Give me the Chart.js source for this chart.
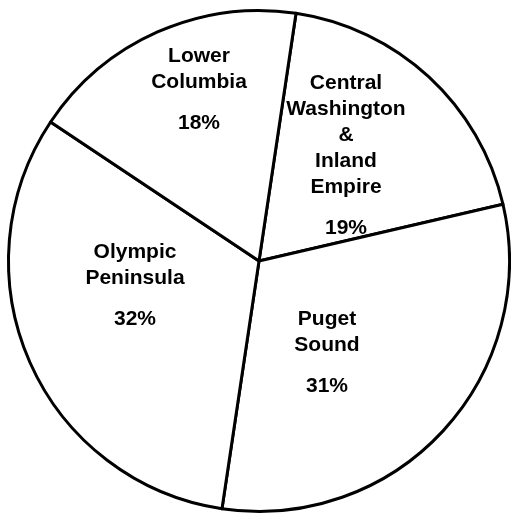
<!DOCTYPE html>
<html>
<head>
<meta charset="utf-8">
<title>Regional shares</title>
<script src="https://cdn.jsdelivr.net/npm/chart.js@4.4.1/dist/chart.umd.min.js"></script>
<style>
  html, body { margin: 0; padding: 0; background: #ffffff; }
  #wrap { position: relative; width: 511px; height: 516px; }
</style>
</head>
<body>
<div id="wrap"><canvas id="pie" width="511" height="516"></canvas></div>
<script>
// Regions, listed clockwise starting just right of twelve o'clock
const regions = [
  ["Central", "Washington", "&", "Inland", "Empire"],
  ["Puget", "Sound"],
  ["Olympic", "Peninsula"],
  ["Lower", "Columbia"]
];
// Share of each region, in percent
const shares = [19, 31, 32, 18];

// Where each label block sits: offset of its first baseline from the pie
// centre, in pixels for a 252 px radius (scaled with the real radius)
const labelAnchors = [
  [87, -172],
  [68, 64],
  [-124, -3],
  [-60, -199]
];
const LINE_STEP = 26;
const PCT_GAP = 41;

const pieLabels = {
  id: 'pieLabels',
  afterDatasetsDraw(chart) {
    const ctx = chart.ctx;
    const arc = chart.getDatasetMeta(0).data[0];
    const cx = arc.x, cy = arc.y;
    const k = (arc.outerRadius + 1.5) / 252;
    ctx.save();
    ctx.fillStyle = '#000';
    ctx.font = 'bold 21px "Liberation Sans", Arial, sans-serif';
    ctx.textAlign = 'center';
    ctx.textBaseline = 'alphabetic';
    regions.forEach((lines, i) => {
      const x = cx + labelAnchors[i][0] * k;
      const y = cy + labelAnchors[i][1] * k;
      lines.forEach((t, j) => {
        ctx.fillText(t, x, y + j * LINE_STEP);
      });
      const last = y + (lines.length - 1) * LINE_STEP;
      ctx.fillText(shares[i] + '%', x, last + PCT_GAP);
    });
    ctx.restore();
  }
};

new Chart(document.getElementById('pie'), {
  type: 'pie',
  data: {
    labels: regions.map(r => r.join(' ')),
    datasets: [{
      data: shares,
      backgroundColor: '#ffffff',
      borderColor: '#000000',
      borderWidth: 3,
      borderJoinStyle: 'round'
    }]
  },
  options: {
    responsive: false,
    animation: false,
    rotation: 8.5,
    layout: { padding: { left: 7, right: 0, top: 9, bottom: 3 } },
    plugins: {
      legend: { display: false },
      tooltip: { enabled: false }
    }
  },
  plugins: [pieLabels]
});
</script>
</body>
</html>
